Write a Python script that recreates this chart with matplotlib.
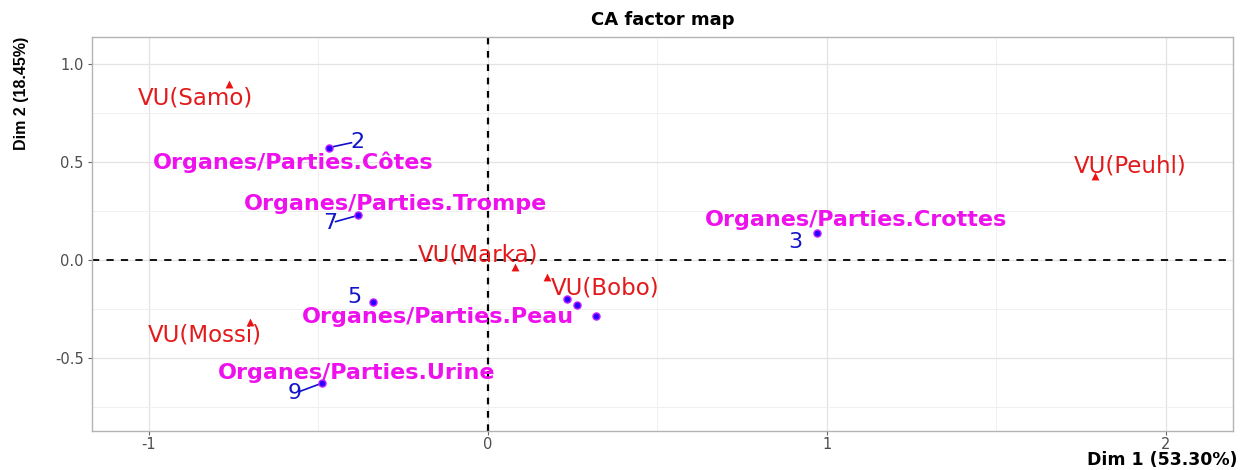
import matplotlib.pyplot as plt
import matplotlib as mpl
from matplotlib.ticker import MultipleLocator, FuncFormatter

mpl.rcParams.update({
    'font.family': ['DejaVu Sans'],
    'axes.linewidth': 1,
})

# row points (ethnic groups)
row_names = ['VU(Samo)', 'VU(Marka)', 'VU(Bobo)', 'VU(Mossi)', 'VU(Peuhl)']
row_x = [-0.764, 0.080, 0.174, -0.702, 1.790]
row_y = [0.898, -0.036, -0.086, -0.314, 0.431]
row_lab_x = [-0.864, -0.030, 0.345, -0.835, 1.894]
row_lab_y = [0.827, 0.025, -0.142, -0.381, 0.482]

# column points (organs / parts)
col_x = [-0.469, -0.383, 0.970, -0.339, -0.490, 0.233, 0.262, 0.319]
col_y = [0.574, 0.228, 0.137, -0.213, -0.629, -0.198, -0.228, -0.284]
col_num = ['2', '7', '3', '5', '9', '', '', '']
col_num_x = [-0.386, -0.466, 0.906, -0.395, -0.569, 0, 0, 0]
col_num_y = [0.605, 0.188, 0.091, -0.188, -0.680, 0, 0, 0]
col_seg = [True, True, False, False, True, False, False, False]
col_name = ['Organes/Parties.Côtes', 'Organes/Parties.Trompe', 'Organes/Parties.Crottes',
            '', 'Organes/Parties.Urine', '', '', 'Organes/Parties.Peau']
col_name_x = [-0.575, -0.274, 1.086, 0, -0.386, 0, 0, -0.147]
col_name_y = [0.497, 0.284, 0.203, 0, -0.579, 0, 0, -0.289]

fig = plt.figure(figsize=(12.44, 4.70), dpi=100)
ax = fig.add_axes([0.074, 0.083, 0.917, 0.838])

ax.set_xlim(-1.168, 2.198)
ax.set_ylim(-0.873, 1.138)

ax.xaxis.set_major_locator(MultipleLocator(1))
ax.xaxis.set_minor_locator(MultipleLocator(0.5))
ax.yaxis.set_major_locator(MultipleLocator(0.5))
ax.yaxis.set_minor_locator(MultipleLocator(0.25))
ax.grid(which='major', color='#e3e3e3', lw=0.9, zorder=0)
ax.grid(which='minor', color='#eeeeee', lw=0.6, zorder=0)
ax.set_axisbelow(True)
ax.tick_params(which='minor', length=0)
ax.tick_params(which='major', length=3, color='#666666', labelcolor='#4d4d4d',
               labelsize=10.5, pad=1)
ax.tick_params(axis='y', pad=3)
ax.xaxis.set_major_formatter(FuncFormatter(lambda v, p: f'{v:g}'))
ax.yaxis.set_major_formatter(FuncFormatter(lambda v, p: f'{v:.1f}'))
for s in ax.spines.values():
    s.set_color('#b3b3b3')

ax.axvline(0, color='black', lw=1.6, ls=(0, (3, 3)), zorder=1)
ax.axhline(0, color='black', lw=1.3, ls=(0, (4, 4)), zorder=1)

# rows
ax.scatter(row_x, row_y, marker='^', s=32, color='#ee1111', zorder=3, linewidths=0)
for name, lx, ly in zip(row_names, row_lab_x, row_lab_y):
    ax.text(lx, ly, name, color='#e31a1c', fontsize=16.5, ha='center', va='center', zorder=4)

# columns
ax.scatter(col_x, col_y, marker='o', s=26, facecolor='#2a00ff', edgecolor='#c020ff',
           linewidths=1.0, zorder=3)
for i in range(len(col_x)):
    if col_num[i]:
        if col_seg[i]:
            ex = col_x[i] + 0.8 * (col_num_x[i] - col_x[i])
            ey = col_y[i] + 0.8 * (col_num_y[i] - col_y[i])
            ax.plot([col_x[i], ex], [col_y[i], ey], color='#1010cc', lw=1.2, zorder=2)
        ax.text(col_num_x[i], col_num_y[i], col_num[i], color='#1414c8', fontsize=16,
                ha='center', va='center', zorder=4)
    if col_name[i]:
        ax.text(col_name_x[i], col_name_y[i], col_name[i], color='#ee11ee', fontsize=16,
                fontweight='bold', ha='center', va='center', zorder=4)

ax.set_title('CA factor map', fontsize=13, fontweight='bold', pad=9)
ax.set_xlabel('Dim 1 (53.30%)', loc='right', fontsize=12.5, fontweight='bold')
ax.xaxis.set_label_coords(1.004, -0.052)
ax.set_ylabel('Dim 2 (18.45%)', loc='top', fontsize=11.5, fontweight='bold',
              family=['Liberation Sans', 'DejaVu Sans'])
ax.yaxis.set_label_coords(-0.055, 1.0)

fig.savefig('out.png', dpi=100)
